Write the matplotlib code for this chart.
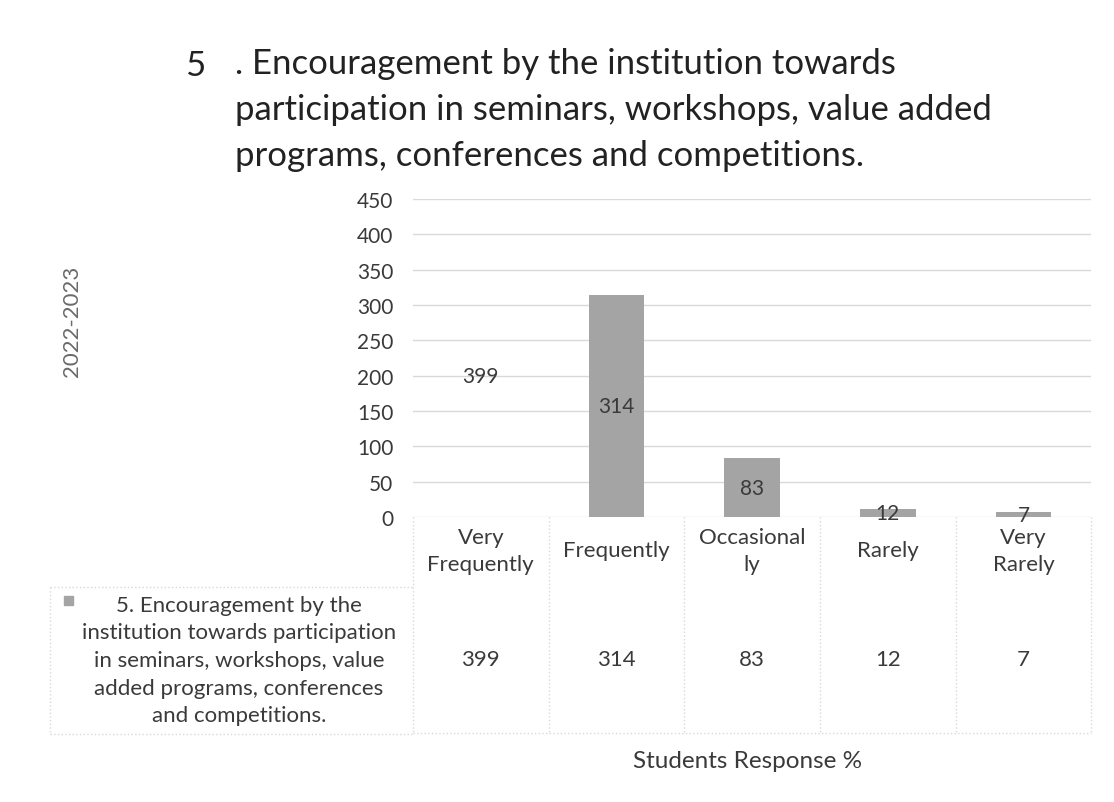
import matplotlib.pyplot as plt
from matplotlib.lines import Line2D
from matplotlib.patches import Rectangle

# dane do wykresu
kategorie = ['Very\nFrequently', 'Frequently', 'Occasional\nly', 'Rarely', 'Very\nRarely']
wartosci = [399, 314, 83, 12, 7]
kolory = ['none', '#a4a4a4', '#a4a4a4', '#a4a4a4', '#a4a4a4']
seria = ('5. Encouragement by the\ninstitution towards participation\nin seminars, workshops, value\n'
         'added programs, conferences\nand competitions.')
tytul = ('. Encouragement by the institution towards\nparticipation in seminars, workshops, value added\n'
         'programs, conferences and competitions.')
os_y = '2022-2023'
os_x = 'Students Response %'

plt.rcParams['font.family'] = ['Lato', 'DejaVu Sans']
tekst = '#3a3a3a'
linia = '#d9d9d9'

fig = plt.figure(figsize=(11.14, 8.03), dpi=100)
ax = fig.add_axes([0.3707, 0.3549, 0.609, 0.396])

x = range(len(wartosci))
slupki = ax.bar(x, wartosci, width=0.41, color=kolory, zorder=3)
ax.bar_label(slupki, label_type='center', fontsize=15, color=tekst)

ax.set_xlim(-0.5, len(wartosci) - 0.5)
ax.set_ylim(0, 450)
ax.set_yticks(range(0, 451, 50))
ax.tick_params(axis='y', length=0, labelsize=15, labelcolor=tekst, pad=14)
ax.set_xticks([])
ax.grid(axis='y', color=linia, linewidth=1, zorder=0)
for s in ax.spines.values():
    s.set_visible(False)

# tabela danych pod wykresem
tr = ax.get_xaxis_transform()
gora, srodek, dol = 0.0, -0.21, -0.68
for i, (k, w) in enumerate(zip(kategorie, wartosci)):
    ax.text(i, (gora + srodek) / 2, k, transform=tr, ha='center', va='center',
            fontsize=16, color=tekst, linespacing=1.45, clip_on=False)
    ax.text(i, (srodek + dol) / 2, str(w), transform=tr, ha='center', va='center',
            fontsize=16, color=tekst, clip_on=False)
for xv in [i - 0.5 for i in range(len(wartosci) + 1)]:
    ax.add_line(Line2D([xv, xv], [gora, dol], transform=tr, color=linia,
                       linewidth=1, linestyle=':', clip_on=False))
ax.add_line(Line2D([-0.5, len(wartosci) - 0.5], [dol, dol], transform=tr, color=linia,
                   linewidth=1, linestyle=':', clip_on=False))

# opis serii po lewej
lx0, lx1 = 50 / 1114, 413 / 1114
fy_top, fy_bot = 1 - 588 / 803, 1 - 735 / 803
fig.add_artist(Line2D([lx0, lx0], [fy_top, fy_bot], color=linia, linewidth=1, linestyle=':'))
fig.add_artist(Line2D([lx0, lx1], [fy_top, fy_top], color=linia, linewidth=1, linestyle=':'))
fig.add_artist(Line2D([lx0, lx1], [fy_bot, fy_bot], color=linia, linewidth=1, linestyle=':'))
fig.add_artist(Rectangle((64 / 1114, 1 - 606 / 803), 9 / 1114, 9 / 803, color='#a4a4a4'))
fig.text(239 / 1114, 1 - 661 / 803, seria, ha='center', va='center', fontsize=16,
         color=tekst, linespacing=1.47)

# tytuł
fig.text(185 / 1114, 1 - 66 / 803, '5', ha='left', va='center', fontsize=25, color='#222222')
fig.text(235 / 1114, 1 - 110 / 803, tytul, ha='left', va='center', fontsize=25, color='#222222',
         linespacing=1.53)

# opisy osi
fig.text(72 / 1114, 1 - 321 / 803, os_y, rotation=90, ha='center', va='center',
         fontsize=16, color='#6a6a6a')
fig.text(748 / 1114, 1 - 762 / 803, os_x, ha='center', va='center', fontsize=17.5, color=tekst)

fig.savefig('out.png', dpi=100)
